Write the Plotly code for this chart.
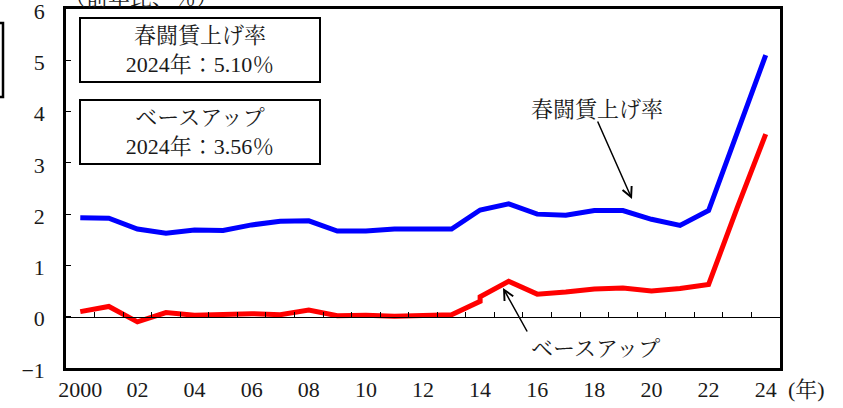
import plotly.graph_objects as go

years = list(range(2000, 2025))
shunto_rate = [1.93, 1.92, 1.71, 1.63, 1.69, 1.68, 1.79, 1.86, 1.87, 1.67, 1.67, 1.71,
               1.71, 1.71, 2.08, 2.20, 2.00, 1.98, 2.07, 2.07, 1.90, 1.78, 2.07, 3.58, 5.10]
# base-up series: old definition up to 2014, new definition from 2014
base_up_old_years = list(range(2000, 2015))
base_up_old = [0.10, 0.20, -0.10, 0.08, 0.03, 0.05, 0.06, 0.04, 0.13, 0.02, 0.03, 0.01,
               0.02, 0.04, 0.30]
base_up_new_years = list(range(2014, 2025))
base_up_new = [0.39, 0.69, 0.44, 0.48, 0.54, 0.56, 0.50, 0.55, 0.63, 2.12, 3.56]

xtick_vals = list(range(2000, 2025, 2))
xtick_text = ["2000", "02", "04", "06", "08", "10", "12", "14", "16", "18", "20", "22", "24"]
ytick_vals = [-1, 0, 1, 2, 3, 4, 5, 6]
boundary_ticks = [y + 0.5 for y in range(2000, 2024)]

FONT = "Liberation Serif, Noto Serif CJK JP, Noto Sans CJK JP, serif"

fig = go.Figure()
fig.add_trace(go.Scatter(x=years, y=shunto_rate, mode="lines",
                         line=dict(color="#0000FF", width=5), showlegend=False))
fig.add_trace(go.Scatter(x=base_up_old_years + base_up_new_years,
                         y=base_up_old + base_up_new, mode="lines",
                         line=dict(color="#FF0000", width=5), showlegend=False))
# invisible trace to carry the zero-line axis
fig.add_trace(go.Scatter(x=years, y=shunto_rate, xaxis="x2", mode="lines",
                         line=dict(width=0), opacity=0, showlegend=False, hoverinfo="skip"))

W, H = 843, 408
L, R, T, B = 66, 63, 9, 40
pw, ph = W - L - R, H - T - B

def px(x):
    return (x - L) / pw

def py(y):
    return (H - B - y) / ph

fig.update_layout(
    width=W, height=H,
    margin=dict(l=L, r=R, t=T, b=B, autoexpand=False),
    plot_bgcolor="white", paper_bgcolor="white",
    font=dict(family=FONT, size=22, color="#1a1a1a"),
    xaxis=dict(range=[1999.5, 2024.5], tickvals=xtick_vals, ticktext=xtick_text,
               showgrid=False, zeroline=False, showline=True, mirror=True, automargin=False,
               linecolor="black", linewidth=2.5, ticks="", tickfont=dict(size=22),
               ticklabeloverflow="allow"),
    xaxis2=dict(range=[1999.5, 2024.5], overlaying="x", anchor="free", position=1/7,
                side="bottom", tickvals=boundary_ticks, ticks="inside", ticklen=5,
                tickwidth=1, tickcolor="black", showticklabels=False, showgrid=False,
                zeroline=False, showline=True, linecolor="black", linewidth=1, automargin=False),
    yaxis=dict(range=[-1, 6], tickvals=ytick_vals, showgrid=False, zeroline=False,
               showline=True, mirror=True, linecolor="black", linewidth=2.5, automargin=False,
               ticks="inside", ticklen=5, tickwidth=1, tickcolor="black",
               ticklabelstandoff=14, ticklabelshift=2, tickfont=dict(size=22),
               ticklabeloverflow="allow"),
)

def label(text, x, y, **kw):
    d = dict(text=text, xref="paper", yref="paper", x=px(x), y=py(y),
             xanchor="center", yanchor="middle", showarrow=False, font=dict(size=22))
    d.update(kw)
    return d

def arrow(hx, hy, tx, ty):
    return dict(text="", xref="paper", yref="paper", x=px(hx), y=py(hy),
                ax=tx - hx, ay=ty - hy, showarrow=True, arrowhead=5, arrowsize=1.3,
                arrowwidth=1.5, arrowcolor="black", standoff=0, startstandoff=0)

ann = [
    label("（前年比、％）", 141, -3),
    label("春闘賃上げ率<br>2024年：5.10％", 200, 50, bordercolor="black", borderwidth=2,
          bgcolor="white", width=238, height=62, borderpad=0),
    label("ベースアップ<br>2024年：3.56％", 200, 132, bordercolor="black", borderwidth=2,
          bgcolor="white", width=238, height=62, borderpad=0),
    label("春闘賃上げ率", 597, 110),
    arrow(632, 199, 597, 120),
    label("ベースアップ", 595, 348),
    arrow(503, 288, 528, 333),
    label("(年)", 806, 389),
]
fig.update_layout(annotations=ann)

fig.add_shape(type="rect", xref="paper", yref="paper",
              x0=px(-20), x1=px(3), y0=py(97), y1=py(23),
              line=dict(color="black", width=2.5), fillcolor="rgba(0,0,0,0)")

fig.write_html("out.html", config={"displayModeBar": False},
               post_script="document.body.style.margin='0';document.body.style.padding='0';")
